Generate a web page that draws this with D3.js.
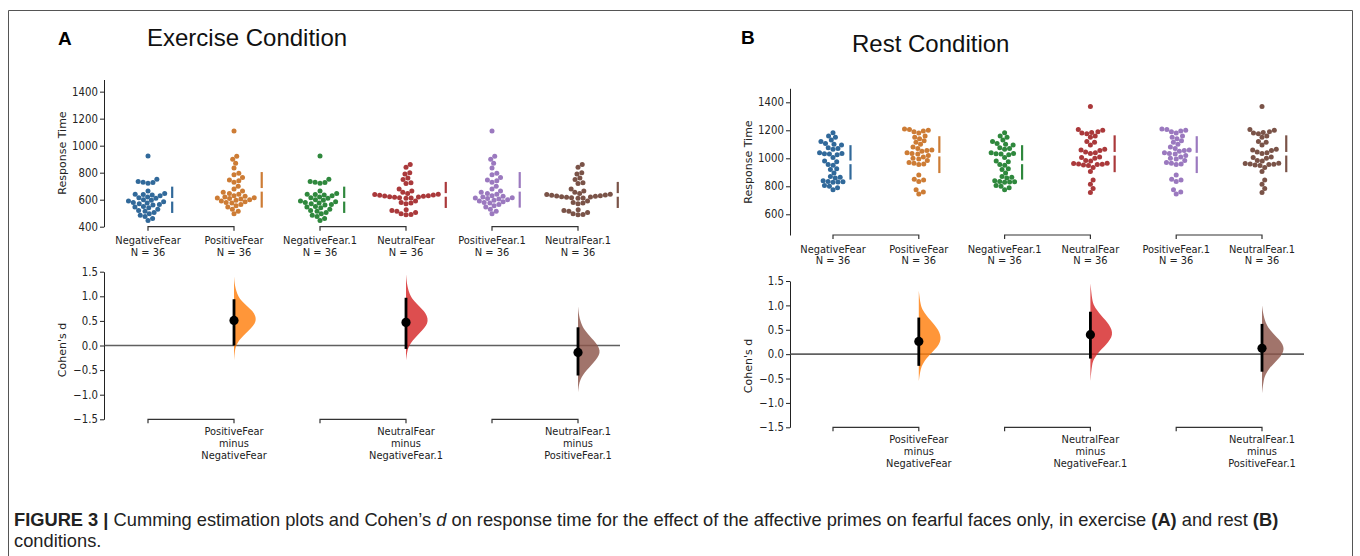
<!DOCTYPE html>
<html>
<head>
<meta charset="utf-8">
<script src="https://cdn.jsdelivr.net/npm/d3@7"></script>
<style>
  body { margin: 0; background: #fff; }
  svg { display: block; font-family: "DejaVu Sans", sans-serif; }
</style>
</head>
<body>
<script>
// categories
const groups = ["NegativeFear", "PositiveFear", "NegativeFear.1", "NeutralFear", "PositiveFear.1", "NeutralFear.1"];
const pairs = [["NegativeFear", "PositiveFear"], ["NegativeFear.1", "NeutralFear"], ["PositiveFear.1", "NeutralFear.1"]];
const contrastLabels = [["PositiveFear", "minus", "NegativeFear"], ["NeutralFear", "minus", "NegativeFear.1"], ["NeutralFear.1", "minus", "PositiveFear.1"]];

// response times (ms), exercise condition
const exNegativeFear = [924, 751, 735, 730, 728, 722, 665, 645, 640, 638, 635, 630, 620, 615, 610, 600, 595, 590, 585, 580, 575, 570, 565, 560, 550, 545, 540, 530, 520, 515, 505, 495, 485, 475, 460, 445];
const exPositiveFear = [1109, 922, 900, 870, 835, 795, 785, 765, 745, 740, 730, 700, 680, 665, 655, 645, 640, 630, 625, 620, 615, 612, 608, 605, 600, 595, 590, 585, 580, 575, 565, 555, 545, 530, 515, 495];
const exNeutralFear = [860, 840, 800, 790, 760, 750, 725, 720, 680, 665, 655, 645, 640, 638, 635, 632, 630, 628, 625, 622, 620, 618, 615, 612, 610, 590, 580, 575, 570, 525, 520, 515, 505, 495, 490, 488];

// response times (ms), rest condition
const restNegativeFear = [1183, 1160, 1150, 1130, 1120, 1105, 1100, 1095, 1075, 1070, 1065, 1040, 1035, 1032, 1030, 1025, 1005, 980, 975, 955, 950, 925, 920, 895, 870, 865, 860, 840, 835, 832, 830, 828, 805, 800, 790, 775];
const restPositiveFear = [1210, 1205, 1200, 1195, 1190, 1180, 1160, 1150, 1140, 1125, 1115, 1100, 1080, 1070, 1055, 1060, 1050, 1040, 1035, 1030, 1020, 1010, 1000, 995, 985, 970, 965, 960, 955, 880, 850, 845, 835, 775, 760, 745];
const restNeutralFear = [1370, 1205, 1200, 1190, 1185, 1180, 1175, 1160, 1150, 1120, 1115, 1095, 1065, 1060, 1055, 1045, 1040, 1035, 1010, 1005, 1000, 985, 980, 965, 963, 960, 958, 955, 952, 948, 935, 905, 845, 815, 785, 755];

// Cohen's d with 95% CI
const exEffect = [0.51, 0.47, -0.14];
const exCiLow = [0.00, -0.07, -0.61];
const exCiHigh = [0.94, 0.97, 0.37];
const restEffect = [0.26, 0.40, 0.12];
const restCiLow = [-0.24, -0.09, -0.36];
const restCiHigh = [0.75, 0.87, 0.62];

// bootstrap distributions: [d, relative density]
const exBoot1 = [[1.40,0],[1.2,0.04],[1.0,0.18],[0.9,0.36],[0.8,0.6],[0.7,0.85],[0.6,0.98],[0.5,1],[0.4,0.88],[0.3,0.66],[0.2,0.42],[0.1,0.22],[0.0,0.1],[-0.1,0.04],[-0.3,0]];
const exBoot2 = [[1.45,0],[1.2,0.05],[1.0,0.2],[0.9,0.38],[0.8,0.6],[0.7,0.82],[0.6,0.96],[0.5,1],[0.4,0.92],[0.3,0.72],[0.2,0.5],[0.1,0.3],[0.0,0.15],[-0.1,0.06],[-0.3,0]];
const exBoot3 = [[0.8,0],[0.6,0.04],[0.4,0.18],[0.3,0.33],[0.2,0.52],[0.1,0.72],[0.0,0.9],[-0.1,1],[-0.2,0.96],[-0.3,0.8],[-0.4,0.6],[-0.5,0.4],[-0.6,0.22],[-0.7,0.1],[-0.8,0.04],[-0.95,0]];
const restBoot1 = [[1.3,0],[1.0,0.08],[0.9,0.18],[0.8,0.34],[0.7,0.52],[0.6,0.72],[0.5,0.88],[0.4,0.98],[0.3,1],[0.2,0.92],[0.1,0.74],[0.0,0.52],[-0.1,0.32],[-0.2,0.18],[-0.3,0.08],[-0.55,0]];
const restBoot2 = [[1.45,0],[1.1,0.08],[1.0,0.16],[0.9,0.3],[0.8,0.48],[0.7,0.68],[0.6,0.86],[0.5,0.97],[0.4,1],[0.3,0.9],[0.2,0.72],[0.1,0.5],[0.0,0.3],[-0.1,0.16],[-0.2,0.07],[-0.55,0]];
const restBoot3 = [[1.0,0],[0.8,0.06],[0.6,0.2],[0.5,0.36],[0.4,0.56],[0.3,0.78],[0.2,0.95],[0.1,1],[0.0,0.92],[-0.1,0.74],[-0.2,0.52],[-0.3,0.32],[-0.4,0.18],[-0.5,0.08],[-0.8,0]];

// tick labels
const rtTicksEx = [400, 600, 800, 1000, 1200, 1400];
const rtTicksRest = [600, 800, 1000, 1200, 1400];
const dTicks = [-1.5, -1.0, -0.5, 0.0, 0.5, 1.0, 1.5];

const swarmColors = ["#31699a", "#cd7c35", "#2f883d", "#aa393b", "#9b79bf", "#7a5348"];
const violinColors = ["#ff7f0e", "#d62728", "#8c564b"];

const W = 1360, H = 556;
const svg = d3.select("body").append("svg").attr("width", W).attr("height", H);

// outer frame
svg.append("path")
  .attr("d", "M8.5,560V10.5H1352.5V560")
  .attr("fill", "none").attr("stroke", "#555").attr("stroke-width", 1);

const squeeze = 0.88;   // the figure is slightly condensed horizontally
const r = 2.5;

function swarm(values, y) {
  const pts = values.map(v => ({ v: v, y: y(v) })).sort((a, b) => b.y - a.y);
  const placed = [];
  const dd = 4 * r * r;
  pts.forEach(p => {
    const near = placed.filter(q => Math.abs(q.y - p.y) < 2 * r);
    let cands = [0];
    near.forEach(q => {
      const dx = Math.sqrt(dd - (q.y - p.y) ** 2);
      cands.push(q.dx + dx, q.dx - dx);
    });
    cands.sort((a, b) => Math.abs(a) - Math.abs(b));
    for (const c of cands) {
      if (near.every(q => (q.dx - c) ** 2 + (q.y - p.y) ** 2 >= dd - 1e-6)) { p.dx = c; break; }
    }
    placed.push(p);
  });
  return placed;
}

function smallText(g, x, y, txt, anchor) {
  g.append("text")
    .attr("transform", `translate(${x},${y}) scale(${squeeze},1)`)
    .attr("text-anchor", anchor || "middle")
    .attr("font-size", 11.2)
    .attr("fill", "#222")
    .text(txt);
}

const panels = [
  {
    letter: "A", title: "Exercise Condition", letterX: 58, titleX: 147, letterY: 45, titleY: 46,
    axisX: 104, xRange: [148, 578], zeroEnd: 620,
    rtDomain: [400, 1490], rtRange: [226.7, 79.5], rtTicks: rtTicksEx,
    dRange: [419.3, 271.7], rtLabelY: 153, dLabelY: 350,
    data: [exNegativeFear, exPositiveFear, exNegativeFear, exNeutralFear, exPositiveFear, exNeutralFear],
    effect: exEffect, lo: exCiLow, hi: exCiHigh, boot: [exBoot1, exBoot2, exBoot3]
  },
  {
    letter: "B", title: "Rest Condition", letterX: 741, titleX: 852, letterY: 44, titleY: 52,
    axisX: 790, xRange: [833, 1262], zeroEnd: 1304,
    rtDomain: [452, 1500], rtRange: [235, 88.3], rtTicks: rtTicksRest,
    dRange: [427.3, 281], rtLabelY: 162, dLabelY: 366,
    data: [restNegativeFear, restPositiveFear, restNegativeFear, restNeutralFear, restPositiveFear, restNeutralFear],
    effect: restEffect, lo: restCiLow, hi: restCiHigh, boot: [restBoot1, restBoot2, restBoot3]
  }
];

panels.forEach(P => {
  const g = svg.append("g");

  g.append("text").attr("x", P.letterX).attr("y", P.letterY)
    .attr("font-family", "Liberation Sans, Arial, sans-serif")
    .attr("font-weight", "bold").attr("font-size", 19).attr("fill", "#000").text(P.letter);
  g.append("text").attr("x", P.titleX).attr("y", P.titleY)
    .attr("font-family", "Liberation Sans, Arial, sans-serif")
    .attr("font-size", 24).attr("fill", "#111").text(P.title);

  const x = d3.scalePoint().domain(groups).range(P.xRange);
  const y = d3.scaleLinear().domain(P.rtDomain).range(P.rtRange);
  const yd = d3.scaleLinear().domain([-1.5, 1.5]).range(P.dRange);

  // ---- upper: swarm plot, lower: effect size axis ----
  const yAxis = g.append("g")
    .attr("transform", `translate(${P.axisX},0)`)
    .call(d3.axisLeft(y).tickValues(P.rtTicks).tickSize(4).tickSizeOuter(0).tickPadding(3).tickFormat(d3.format("d")));
  const dAxis = g.append("g")
    .attr("transform", `translate(${P.axisX},0)`)
    .call(d3.axisLeft(yd).tickValues(dTicks).tickSize(4).tickSizeOuter(0).tickPadding(3).tickFormat(d3.format(".1f")));
  [yAxis, dAxis].forEach(ax => {
    ax.select(".domain").attr("stroke", "#222");
    ax.selectAll(".tick line").attr("stroke", "#222");
    ax.selectAll(".tick text")
      .attr("font-size", 11.5).attr("font-family", "DejaVu Sans, sans-serif")
      .attr("fill", "#222")
      .attr("transform", `scale(${squeeze},1)`);
  });

  g.append("text")
    .attr("transform", `translate(${P.axisX - 38},${P.rtLabelY}) rotate(-90)`)
    .attr("text-anchor", "middle").attr("font-size", 11).attr("fill", "#222").text("Response Time");
  g.append("text")
    .attr("transform", `translate(${P.axisX - 38},${P.dLabelY}) rotate(-90)`)
    .attr("text-anchor", "middle").attr("font-size", 11).attr("fill", "#222").text("Cohen's d");

  groups.forEach((grp, i) => {
    const vals = P.data[i];
    const cx = x(grp);
    const pts = swarm(vals, y);
    g.append("g").selectAll("circle").data(pts).join("circle")
      .attr("cx", d => cx + d.dx).attr("cy", d => d.y).attr("r", r)
      .attr("fill", swarmColors[i]);

    // mean +/- sd with a gap at the mean
    const m = d3.mean(vals), sd = d3.deviation(vals);
    const bx = cx + d3.max(pts, d => d.dx) + r + 5;
    const gap = 1.8;
    g.append("line").attr("x1", bx).attr("x2", bx).attr("y1", y(m + sd)).attr("y2", y(m) - gap)
      .attr("stroke", swarmColors[i]).attr("stroke-width", 2.2);
    g.append("line").attr("x1", bx).attr("x2", bx).attr("y1", y(m) + gap).attr("y2", y(m - sd))
      .attr("stroke", swarmColors[i]).attr("stroke-width", 2.2);

    smallText(g, cx, P.rtRange[0] + 17.5, grp);
    smallText(g, cx, P.rtRange[0] + 29, "N = " + vals.length);
  });

  // bracket axes under both plots
  [P.rtRange[0], P.dRange[0]].forEach(by => {
    pairs.forEach(pr => {
      const xa = x(pr[0]), xb = x(pr[1]);
      g.append("path")
        .attr("d", `M${xa},${by + 4}V${by}H${xb}V${by + 4}`)
        .attr("fill", "none").attr("stroke", "#333").attr("stroke-width", 1.2);
    });
  });

  // ---- lower: effect sizes ----
  g.append("line").attr("x1", P.axisX).attr("x2", P.zeroEnd)
    .attr("y1", yd(0)).attr("y2", yd(0))
    .attr("stroke", "#444").attr("stroke-opacity", 0.85).attr("stroke-width", 1.6);

  const wScale = d3.scaleLinear().domain([0, 1]).range([0, 22]);
  pairs.forEach((pr, k) => {
    const cx = x(pr[1]);
    const area = d3.area()
      .y(d => yd(d[0]))
      .x0(cx)
      .x1(d => cx + wScale(d[1]))
      .curve(d3.curveBasis);
    g.append("path").datum(P.boot[k]).attr("d", area)
      .attr("fill", violinColors[k]).attr("fill-opacity", 0.82);

    g.append("line").attr("x1", cx).attr("x2", cx)
      .attr("y1", yd(P.hi[k])).attr("y2", yd(P.lo[k]))
      .attr("stroke", "#000").attr("stroke-width", 2.8);
    g.append("circle").attr("cx", cx).attr("cy", yd(P.effect[k])).attr("r", 4.6).attr("fill", "#000");

    contrastLabels[k].forEach((t, j) => {
      smallText(g, cx, P.dRange[0] + 15.5 + j * 12.3, t);
    });
  });
});

// caption
const cap = svg.append("g").attr("font-family", "Liberation Sans Narrow, Liberation Sans, Arial, sans-serif")
  .attr("font-size", 18).attr("fill", "#222");
const line1 = cap.append("text").attr("x", 0).attr("y", 0);
line1.append("tspan").attr("font-weight", "bold").text("FIGURE 3 |");
line1.append("tspan").text(" Cumming estimation plots and Cohen\u2019s ");
line1.append("tspan").attr("font-style", "italic").text("d");
line1.append("tspan").text(" on response time for the effect of the affective primes on fearful faces only, in exercise ");
line1.append("tspan").attr("font-weight", "bold").text("(A)");
line1.append("tspan").text(" and rest ");
line1.append("tspan").attr("font-weight", "bold").text("(B)");
cap.append("text").attr("x", 0).attr("y", 21).text("conditions.");

const target = 1280 - 14;
const sx = target / line1.node().getComputedTextLength();
cap.attr("transform", `translate(14,526) scale(${sx},1)`);
</script>
</body>
</html>
